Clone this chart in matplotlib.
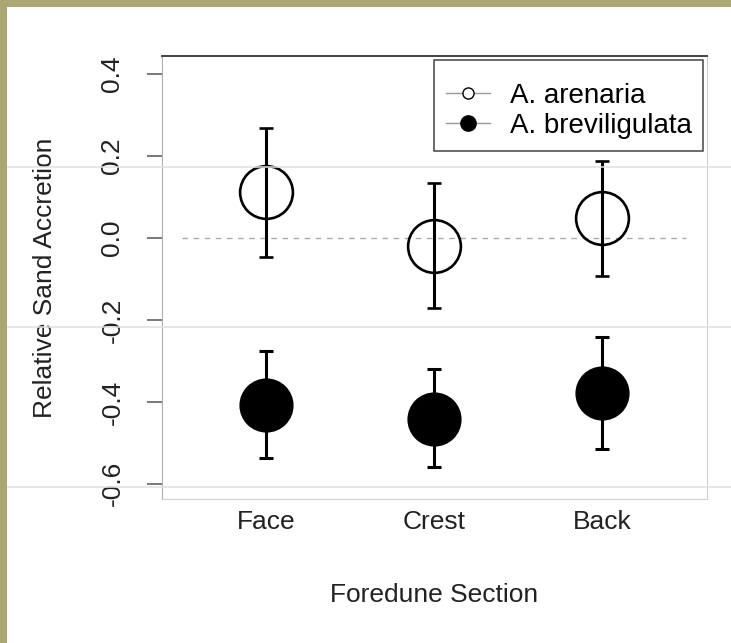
import matplotlib.pyplot as plt
from matplotlib.lines import Line2D
from matplotlib.patches import Rectangle

plt.rcParams['font.family'] = ['Liberation Sans', 'DejaVu Sans']

sections = ['Face', 'Crest', 'Back']
x_pos = [1, 2, 3]

# A. arenaria: mean and error bar ends
aren_mean = [0.113, -0.019, 0.048]
aren_low = [-0.046, -0.171, -0.094]
aren_high = [0.269, 0.135, 0.189]

# A. breviligulata
brev_mean = [-0.407, -0.441, -0.379]
brev_low = [-0.537, -0.560, -0.515]
brev_high = [-0.275, -0.320, -0.241]

y_ticks = [-0.6, -0.4, -0.2, 0.0, 0.2, 0.4]


def err(mean, low, high):
    return [[m - l for m, l in zip(mean, low)], [h - m for m, h in zip(mean, high)]]


fig = plt.figure(figsize=(7.31, 6.43), dpi=100)
fig.patch.set_facecolor('white')

# screenshot frame and faint slide lines
olive = '#aaa676'
fig.patches.append(Rectangle((0, 1 - 7 / 643), 1, 7 / 643, transform=fig.transFigure,
                             facecolor=olive, edgecolor='none', zorder=0))
fig.patches.append(Rectangle((0, 0), 7 / 731, 1, transform=fig.transFigure,
                             facecolor=olive, edgecolor='none', zorder=0))
for yy in [167, 327, 487]:
    fig.lines.append(Line2D([8 / 731, 1], [1 - yy / 643] * 2, transform=fig.transFigure,
                            color='#e0e0e0', lw=1.1, zorder=0))

ax = fig.add_axes([162 / 731, 1 - 499 / 643, 545 / 731, 443 / 643])
ax.patch.set_alpha(0)

ax.hlines(0, 0.5, 3.5, colors='#aaaaaa', linestyles=(0, (4, 4)), lw=1)

ax.errorbar(x_pos, aren_mean, yerr=err(aren_mean, aren_low, aren_high), fmt='o',
            ms=38, mfc='none', mec='black', mew=1.9, ecolor='black', elinewidth=2.2,
            capsize=4.8, capthick=2.2, zorder=3)
ax.errorbar(x_pos, brev_mean, yerr=err(brev_mean, brev_low, brev_high), fmt='o',
            ms=38, mfc='black', mec='black', ecolor='black', elinewidth=2.2,
            capsize=4.8, capthick=2.2, zorder=3)

ax.set_xlim(0.38, 3.625)
ax.set_ylim(-0.637, 0.444)
ax.set_yticks(y_ticks)
ax.set_yticklabels(['%.1f' % v for v in y_ticks], rotation=90, va='center')
ax.set_xticks(x_pos)
ax.set_xticklabels(sections)
ax.tick_params(axis='y', length=11, width=1.1, color='#555555', pad=16, labelsize=19,
               labelcolor='#222222')
ax.tick_params(axis='x', length=0, pad=8, labelsize=19, labelcolor='#222222')

ax.spines['top'].set_color('#333333')
ax.spines['top'].set_linewidth(1.3)
ax.spines['left'].set_color('#b0b0b0')
ax.spines['right'].set_color('#d0d0d0')
ax.spines['bottom'].set_color('#d0d0d0')

ax.set_xlabel('Foredune Section', fontsize=19, color='#222222', labelpad=35)
ax.set_ylabel('Relative Sand Accretion', fontsize=19, color='#222222', labelpad=31)

handles = [
    Line2D([0], [0], color='#999999', lw=1, marker='o', ms=8, mfc='white', mec='black', mew=1),
    Line2D([0], [0], color='#999999', lw=1, marker='o', ms=11, mfc='black', mec='black'),
]
leg = ax.legend(handles, ['A. arenaria', 'A. breviligulata'], loc='upper right',
                bbox_to_anchor=(0.993, 0.991), borderaxespad=0, fontsize=20,
                title=' ', title_fontsize=6,
                frameon=True, fancybox=False, edgecolor='#444444', framealpha=1,
                handlelength=1.6, handletextpad=0.7, borderpad=0.42, labelspacing=0.15)
leg.get_frame().set_linewidth(1.1)

plt.savefig('out.png', dpi=100, facecolor='white')
